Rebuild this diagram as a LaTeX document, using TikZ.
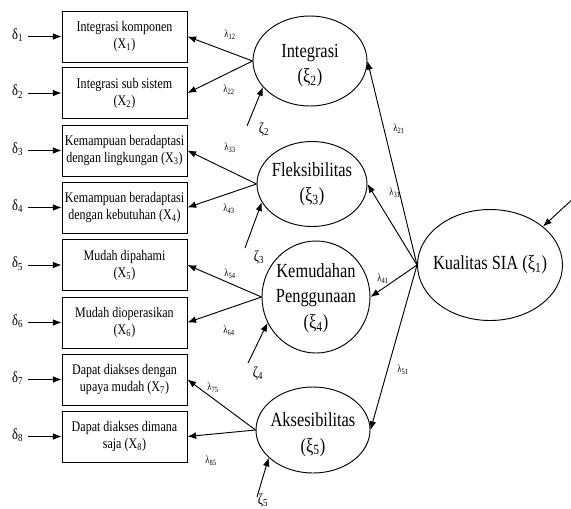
\documentclass[tikz,border=0pt]{standalone}
\usepackage{fontspec}
\setmainfont{Liberation Serif}[FakeStretch=0.82]
\usetikzlibrary{shapes.geometric,arrows.meta}
\begin{document}
\begin{tikzpicture}[x=0.75pt,y=-0.75pt,
  box/.style={draw,line width=0.7pt,minimum width=93.75pt,minimum height=38.25pt,inner sep=0pt,align=center,font=\fontsize{11}{12.75}\selectfont},
  lat/.style={draw,ellipse,line width=0.7pt,inner sep=0pt},
  lattext/.style={align=center,font=\fontsize{15}{19}\selectfont,inner sep=0pt},
  arr/.style={-{Latex[length=6.5pt,width=5pt]},line width=0.7pt},
  lam/.style={font=\fontsize{8}{9}\selectfont,inner sep=0pt},
  err/.style={font=\fontsize{11.5}{13}\selectfont,inner sep=0pt}]
\useasboundingbox (0,0) rectangle (571,508);
% indicator boxes
\node[box] (x1) at (124.5,36.5) {Integrasi komponen\\(X\textsubscript{1})};
\node[box] (x2) at (124.5,93) {Integrasi sub sistem\\(X\textsubscript{2})};
\node[box] (x3) at (124.5,150.5) {Kemampuan beradaptasi\\dengan lingkungan (X\textsubscript{3})};
\node[box] (x4) at (124.5,207.5) {Kemampuan beradaptasi\\dengan kebutuhan (X\textsubscript{4})};
\node[box] (x5) at (124.5,265) {Mudah dipahami\\(X\textsubscript{5})};
\node[box] (x6) at (124.5,322.5) {Mudah dioperasikan\\(X\textsubscript{6})};
\node[box] (x7) at (124.5,379.5) {Dapat diakses dengan\\upaya mudah (X\textsubscript{7})};
\node[box] (x8) at (124.5,436.5) {Dapat diakses dimana\\saja (X\textsubscript{8})};
% delta labels
\foreach \i/\y in {1/36.5,2/93,3/150.5,4/207.5,5/265,6/322.5,7/379.5,8/436.5}{
  \node[err,anchor=east] (d\i) at (23.5,\y-1.5) {δ\textsubscript{\i}};
  \draw[arr] (28,\y) -- (x\i.west);
}
% latent ellipses
\node[lat,minimum width=85.5pt,minimum height=67.5pt,label={[lattext,yshift=-3.4pt]center:{Integrasi\\(ξ\textsubscript{2})}}] (int) at (310,61) {};
\node[lat,minimum width=82.5pt,minimum height=63.75pt,label={[lattext]center:{Fleksibilitas\\(ξ\textsubscript{3})}}] (flex) at (312,184) {};
\node[lat,minimum width=81pt,minimum height=84pt,label={[lattext,yshift=-0.75pt]center:{Kemudahan\\Penggunaan\\(ξ\textsubscript{4})}}] (kem) at (316,297) {};
\node[lat,minimum width=85.5pt,minimum height=64.5pt,label={[lattext,yshift=-3.4pt]center:{Aksesibilitas\\(ξ\textsubscript{5})}}] (aks) at (313,430) {};
\node[lat,minimum width=108.75pt,minimum height=83.25pt,label={[lattext]center:{Kualitas SIA (ξ\textsubscript{1})}}] (kual) at (490,265) {};
% loadings to indicators
\draw[arr] (int.west) -- (x1.east);
\draw[arr] (int.west) -- (x2.east);
\draw[arr] (flex.west) -- (x3.east);
\draw[arr] (flex.west) -- (x4.east);
\draw[arr] (kem.west) -- (x5.east);
\draw[arr] (kem.west) -- (x6.east);
\draw[arr] (aks.west) -- (x7.east);
\draw[arr] (aks.west) -- (x8.east);
% second order loadings
\draw[arr] (kual.west) -- (int.east);
\draw[arr] (kual.west) -- (flex.east);
\draw[arr] (kual.west) -- (kem.east);
\draw[arr] (kual.west) -- (aks.east);
% disturbances
\coordinate (z2) at (247,126);
\coordinate (z3) at (245,248);
\coordinate (z4) at (248,363);
\coordinate (z5) at (257,497);
\coordinate (z1) at (576,196);
\draw[arr] (z2) -- (int.209);
\draw[arr] (z3) -- (flex.200);
\draw[arr] (z4) -- (kem.208);
\draw[arr] (z5) -- (aks.212);
\draw[arr] (z1) -- (kual.36);
\node[err] (lz2) at (264,129) {ζ\textsubscript{2}};
\node[err] (lz3) at (259,257) {ζ\textsubscript{3}};
\node[err] (lz4) at (258,373) {ζ\textsubscript{4}};
\node[err] (lz5) at (263,500) {ζ\textsubscript{5}};
% lambda labels
\node[lam] (l12) at (230,35) {λ\textsubscript{12}};
\node[lam] (l22) at (229,90) {λ\textsubscript{22}};
\node[lam] (l33) at (230,148) {λ\textsubscript{33}};
\node[lam] (l43) at (229,209) {λ\textsubscript{43}};
\node[lam] (l54) at (230,274) {λ\textsubscript{54}};
\node[lam] (l64) at (229,331) {λ\textsubscript{64}};
\node[lam] (l75) at (213,388) {λ\textsubscript{75}};
\node[lam] (l85) at (211,461) {λ\textsubscript{85}};
\node[lam] (l21) at (399,129) {λ\textsubscript{21}};
\node[lam] (l31) at (395,193) {λ\textsubscript{31}};
\node[lam] (l41) at (383,279) {λ\textsubscript{41}};
\node[lam] (l51) at (403,370) {λ\textsubscript{51}};
\end{tikzpicture}
\end{document}
